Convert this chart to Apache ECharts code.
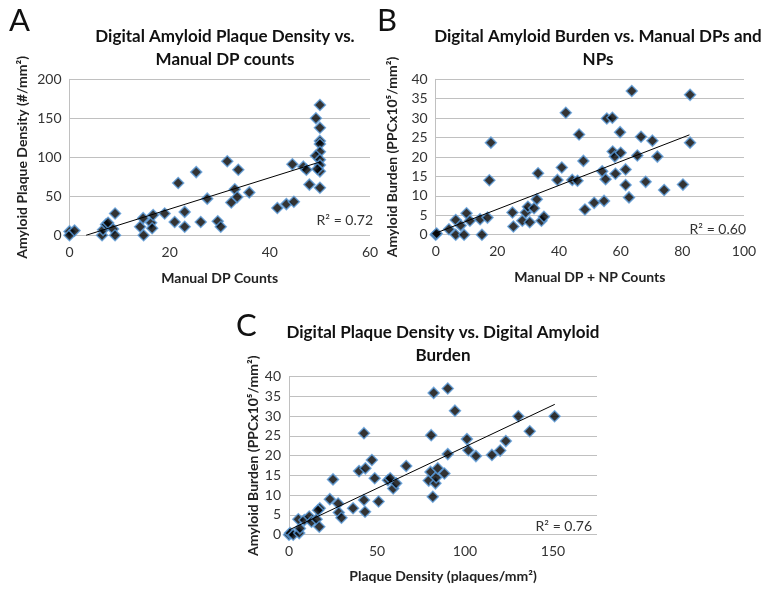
<!DOCTYPE html>
<html>
<head>
<meta charset="utf-8">
<script src="https://cdn.jsdelivr.net/npm/echarts@6/dist/echarts.min.js"></script>
<style>
  html, body { margin: 0; padding: 0; background: #fff; }
  #chart { width: 768px; height: 591px; }
</style>
</head>
<body>
<div id="chart"></div>
<script>
// panel A: manual DP counts vs digital plaque density
const pointsA = [
  [0, 5], [0, 0], [1, 6], [6.5, 0], [6.7, 7], [7.3, 14], [7.7, 16], [8.7, 8], [9.1, 28], [9.1, 0],
  [14.1, 11], [14.7, 22], [14.8, 0], [16.3, 16], [16.5, 9], [16.7, 26],
  [19, 28], [21, 17], [21.7, 67], [23, 30], [23, 11], [25.3, 81], [26.2, 17], [27.5, 47],
  [29.6, 18], [30.2, 11], [31.5, 95], [32.3, 42], [33, 59], [33.5, 49], [33.7, 84], [35.9, 55],
  [41.5, 35], [43.3, 40], [44.8, 43], [44.5, 91], [46.7, 88], [47.3, 84], [47.9, 65],
  [50, 167], [49.2, 150], [50, 138], [50, 121], [50, 117], [50, 107], [49.2, 102], [50, 97],
  [50, 90], [50, 82], [49.5, 85], [50, 61]
];
const trendA = [[3.3, 0], [50, 94]];

// panel B: manual DP + NP counts vs digital amyloid burden
const pointsB = [
  [0, 0], [0.3, 0.3], [4.3, 1.4], [6.5, 3.8], [6.5, 0], [8.1, 2.4], [9.2, 0], [10, 5.5], [11.1, 3.6],
  [14.4, 4], [15, 0], [16.8, 4.4], [17.4, 14], [17.9, 23.7],
  [24.9, 5.7], [25.2, 2.1], [28.1, 3.6], [29.2, 5.7], [29.9, 7.2], [30.5, 3.2], [31.9, 6.8],
  [32.8, 9.1], [33.2, 15.8], [34.3, 3.6], [35.1, 4.6],
  [39.5, 14.1], [40.9, 17.3], [42.2, 31.4], [44.3, 14.1], [46, 13.9], [46.5, 25.8], [47.9, 19],
  [48.4, 6.5], [51.4, 8.2], [54, 16.3], [54.6, 8.7], [55.1, 14.3], [55.5, 29.9], [57.3, 30.1],
  [57.4, 21.4], [58.3, 15.7], [58.1, 20.1], [59.8, 26.4], [60, 21.1], [61.6, 16.8], [61.6, 12.8],
  [62.7, 9.6], [63.6, 37], [65.4, 20.4], [66.6, 25.2], [68.1, 13.6], [70.3, 24.2], [71.9, 20.1],
  [74.1, 11.5], [80.2, 12.9], [82.5, 36], [82.5, 23.7]
];
const trendB = [[0, 0.4], [82.3, 25.7]];

// panel C: digital plaque density vs digital amyloid burden
const pointsC = [
  [0, 0], [0.6, 0.4], [2.4, 0], [5.8, 0.4], [6.2, 1.6], [5.3, 3.9], [8.7, 3.7], [11.5, 4.6],
  [12.8, 3.3], [15.7, 3.9], [17.2, 2], [17.5, 6.7], [16.5, 6.2],
  [23.2, 9], [25, 14], [27.9, 7.9], [28.3, 5.6], [29.8, 4.3], [36.4, 6.7], [39.8, 16.1],
  [42.6, 25.7], [42.6, 8.8], [43.4, 16.8], [43.2, 5.8], [47.1, 18.9], [48.7, 14.3], [50.9, 8.4],
  [56.2, 13.8], [57.5, 14.3], [59.2, 11.7], [60.9, 13], [66.6, 17.4],
  [79.4, 13.7], [80.8, 25.2], [80.4, 15.9], [81.7, 9.6], [82.2, 35.9], [83.2, 13], [83.6, 14.5],
  [84.5, 16.8], [88.3, 15.5], [90.2, 37], [90.2, 20.4], [94.3, 31.4], [101.1, 24.2], [101.9, 21.4],
  [106.2, 19.9], [115.3, 20.2], [120, 21.3], [123.2, 23.7], [130.3, 30], [136.8, 26.2], [150.9, 30]
];
const trendC = [[0, 1.2], [151, 33]];

const titles = [
  'Digital Amyloid Plaque Density vs.\nManual DP counts',
  'Digital Amyloid Burden vs. Manual DPs and\nNPs',
  'Digital Plaque Density vs. Digital Amyloid\nBurden'
];
const xNames = ['Manual DP Counts', 'Manual DP + NP Counts', 'Plaque Density (plaques/mm²)'];
const yNames = ['Amyloid Plaque Density (#/mm²)', 'Amyloid Burden (PPCx10⁵/mm²)', 'Amyloid Burden (PPCx10⁵/mm²)'];
const rSquared = ['R² = 0.72', 'R² = 0.60', 'R² = 0.76'];
const letters = ['A', 'B', 'C'];

const FONT = 'Lato, "Open Sans", sans-serif';
const gridColor = '#c0c0c0';

const chart = echarts.init(document.getElementById('chart'));

const grids = [
  { left: 69.5, top: 79.3, width: 300.5, height: 156 },
  { left: 435.7, top: 79.3, width: 308.3, height: 155.4 },
  { left: 289, top: 376.7, width: 308, height: 158 }
];
const xRanges = [[0, 60, 20], [0, 100, 20], [0, 175, 50]];
const yRanges = [[0, 200, 50], [0, 40, 5], [0, 40, 5]];
const yGaps = [40, 36, 28];
const xGaps = [36, 36, 35];

const scatterStyle = {
  type: 'scatter',
  symbol: 'diamond',
  symbolSize: [11, 11],
  itemStyle: { color: '#000', borderColor: '#5a9ad8', borderWidth: 1.5 },
  emphasis: { disabled: true }
};
const trendStyle = {
  type: 'line',
  symbol: 'none',
  lineStyle: { color: '#000', width: 1 },
  emphasis: { disabled: true },
  z: 3
};

const titleFont = 'bold 17px ' + FONT;

const option = {
  animation: false,
  grid: grids.map(g => ({ ...g, containLabel: false })),
  xAxis: xRanges.map((r, i) => ({
    type: 'value', gridIndex: i, min: r[0], max: r[1], interval: r[2],
    name: xNames[i], nameLocation: 'middle', nameGap: xGaps[i],
    nameTextStyle: { fontFamily: FONT, fontWeight: 'bold', fontSize: 14, color: '#222' },
    axisLine: { show: false },
    axisTick: { show: false },
    splitLine: { show: false },
    axisLabel: { fontFamily: FONT, fontSize: 14, color: '#333', margin: 10, showMaxLabel: i !== 2 }
  })),
  yAxis: yRanges.map((r, i) => ({
    type: 'value', gridIndex: i, min: r[0], max: r[1], interval: r[2],
    name: yNames[i], nameLocation: 'middle', nameGap: yGaps[i],
    nameTextStyle: { fontFamily: FONT, fontWeight: 'bold', fontSize: 14, color: '#222' },
    axisLine: { show: true, lineStyle: { color: gridColor, width: 1 } },
    axisTick: { show: false },
    splitLine: { show: true, lineStyle: { color: gridColor, width: 1.2 } },
    axisLabel: { fontFamily: FONT, fontSize: 14, color: '#333', margin: 8 }
  })),
  series: [
    { ...scatterStyle, xAxisIndex: 0, yAxisIndex: 0, data: pointsA },
    { ...trendStyle, xAxisIndex: 0, yAxisIndex: 0, data: trendA },
    { ...scatterStyle, xAxisIndex: 1, yAxisIndex: 1, data: pointsB },
    { ...trendStyle, xAxisIndex: 1, yAxisIndex: 1, data: trendB },
    { ...scatterStyle, xAxisIndex: 2, yAxisIndex: 2, data: pointsC },
    { ...trendStyle, xAxisIndex: 2, yAxisIndex: 2, data: trendC }
  ],
  graphic: [
    { type: 'text', x: 225, y: 48, style: { text: titles[0], font: titleFont, fill: '#111', align: 'center', verticalAlign: 'middle', lineHeight: 23 } },
    { type: 'text', x: 598, y: 48, style: { text: titles[1], font: titleFont, fill: '#111', align: 'center', verticalAlign: 'middle', lineHeight: 23 } },
    { type: 'text', x: 443, y: 344, style: { text: titles[2], font: titleFont, fill: '#111', align: 'center', verticalAlign: 'middle', lineHeight: 23 } },
    { type: 'text', x: 9, y: 5, style: { text: letters[0], font: '31px ' + FONT, fill: '#111' } },
    { type: 'text', x: 377, y: 5, style: { text: letters[1], font: '31px ' + FONT, fill: '#111' } },
    { type: 'text', x: 236, y: 310, style: { text: letters[2], font: '31px ' + FONT, fill: '#111' } },
    { type: 'text', x: 373, y: 220, style: { text: rSquared[0], font: '14px ' + FONT, fill: '#333', align: 'right', verticalAlign: 'middle' } },
    { type: 'text', x: 746, y: 229, style: { text: rSquared[1], font: '14px ' + FONT, fill: '#333', align: 'right', verticalAlign: 'middle' } },
    { type: 'text', x: 592, y: 526, style: { text: rSquared[2], font: '14px ' + FONT, fill: '#333', align: 'right', verticalAlign: 'middle' } }
  ]
};

chart.setOption(option);
</script>
</body>
</html>
